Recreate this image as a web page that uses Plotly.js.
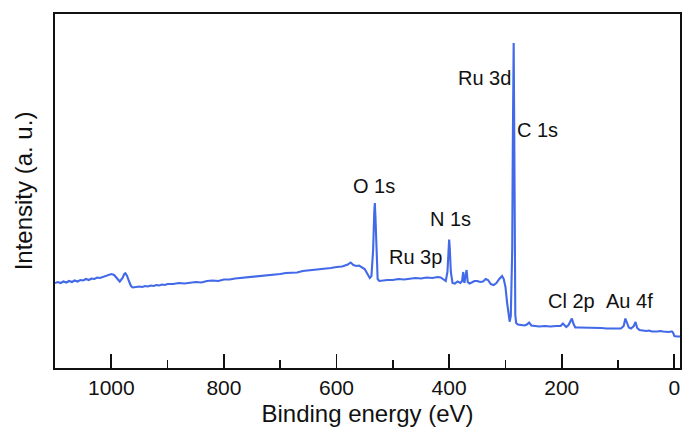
<!DOCTYPE html>
<html>
<head>
<meta charset="utf-8">
<script src="https://cdn.plot.ly/plotly-3.0.1.min.js"></script>
<style>html,body{margin:0;padding:0;background:#fff;}#chart{width:683px;height:437px;}</style>
</head>
<body>
<div id="chart"></div>
<script>
// Binding energy (eV) and intensity (a. u.)
const bindingEnergy = [1100,1095,1090,1085,1080,1075,1070,1065,1060,1055,1050,1045,1040,1035,1030,1025,1020,1015,1010,1005,1000,995,990,985,980,977,975,972,968,965,962,955,950,945,940,935,930,925,920,915,910,905,900,890,880,870,860,850,840,830,820,810,800,790,780,770,760,750,740,730,720,710,700,690,680,670,660,650,640,630,620,610,600,590,580,575,570,565,560,555,550,545,541,538,535,533,532,531,529,527,524,520,510,500,490,480,470,460,450,440,430,420,415,410,406,403,401,400,399,397,394,390,385,380,377,375,373,371,369,367,364,360,355,350,345,340,335,331,326,321,316,311,306,303,300,297,294,292.5,290.5,288,287,286,285.4,284.5,283.5,282.5,281,278,272,266,262,258,254,248,240,230,220,210,202,198,195,192,188,185,182,179,176,170,160,150,140,130,120,110,100,95,90,87,84,81,77,72,69,66,62,55,50,45,40,30,25,20,15,10,6,4,2,0,-5,-10];
const intensity = [85,86,85,86.5,85.5,87,86,87.5,86.5,88,87.5,89,88,89.5,89,90.5,90,91,92,92.5,94,93,90,86.5,90,94,94.7,92,86,82,80.5,81,81.5,81,82,81.5,82.5,82,83,82.5,83.5,83,84,84,85,84.5,85.5,86,85.5,87,87.5,87,88.5,88.5,89.5,90,90.5,91.5,92,92.5,92.5,93.5,94,95,95.5,95.5,97,97.5,98,99,99.5,100,101,101.5,103.5,105.5,103,102,102.5,101,99,94,90,92,118,156,165,153,108,89,87,87.5,88,88,89,88.5,89,90,89.5,90.5,90,91,90.5,89,87,96,120,128.5,121,96,85,84.5,86.5,85,87,96,85,93,98,86,84.5,85.5,87,87,86,86.5,89,88,84,83,85,89,92,89,81,65,52,46.3,52,118,218,308,325,248,118,53,45,43.5,43,42.5,43.5,45.5,42.5,42,41.5,42,41.5,42,42,44.5,42.5,41,43,46,49.5,44,40.5,40.5,40.5,40,40,40,39.5,39.5,39,39.5,42,49.5,45,40.5,39.5,42,46,40,38,37.5,37,37.5,36.5,36.5,37,36.5,36,36,36.5,36.5,35,32,31.5,31.5];

// Peak labels
const peakLabels = ["Ru 3d","C 1s","O 1s","N 1s","Ru 3p","Cl 2p","Au 4f"];
const labelEnergy = [337.5,243,533,398,460,183,80];
const labelIntensity = [290,238,182,149,111,67,67];

const font = "Liberation Sans, Arial, sans-serif";

const trace = {
  x: bindingEnergy,
  y: intensity,
  type: "scatter",
  mode: "lines",
  line: {color: "#4169e8", width: 2.1},
  hoverinfo: "skip"
};

const annotations = peakLabels.map((t, i) => ({
  x: labelEnergy[i], y: labelIntensity[i], xref: "x", yref: "y",
  text: t, showarrow: false, xanchor: "center", yanchor: "middle",
  font: {family: font, size: 20, color: "#111"}
}));

const layout = {
  width: 683, height: 437,
  margin: {l: 55, r: 3, t: 14, b: 69, pad: 0},
  paper_bgcolor: "#fff", plot_bgcolor: "#fff",
  showlegend: false,
  font: {family: font, color: "#111"},
  xaxis: {
    range: [1100, -10],
    showgrid: false, zeroline: false,
    showline: true, linecolor: "#111", linewidth: 1.8, mirror: true,
    ticks: "inside", ticklen: 14, tickwidth: 1.8, tickcolor: "#111",
    tick0: 0, dtick: 200,
    minor: {ticks: "inside", ticklen: 8, tickwidth: 1.5, tickcolor: "#111", dtick: 100, tick0: 0, showgrid: false},
    tickfont: {family: font, size: 21, color: "#111"},
    title: {text: "Binding energy (eV)", font: {family: font, size: 24, color: "#111"}, standoff: 7}
  },
  yaxis: {
    range: [0, 354],
    showgrid: false, zeroline: false,
    showline: true, linecolor: "#111", linewidth: 1.8, mirror: true,
    ticks: "", showticklabels: false,
    title: {text: "Intensity (a. u.)", font: {family: font, size: 24, color: "#111"}, standoff: 14}
  },
  annotations: annotations
};

Plotly.newPlot("chart", [trace], layout, {displayModeBar: false, staticPlot: true});
</script>
</body>
</html>
